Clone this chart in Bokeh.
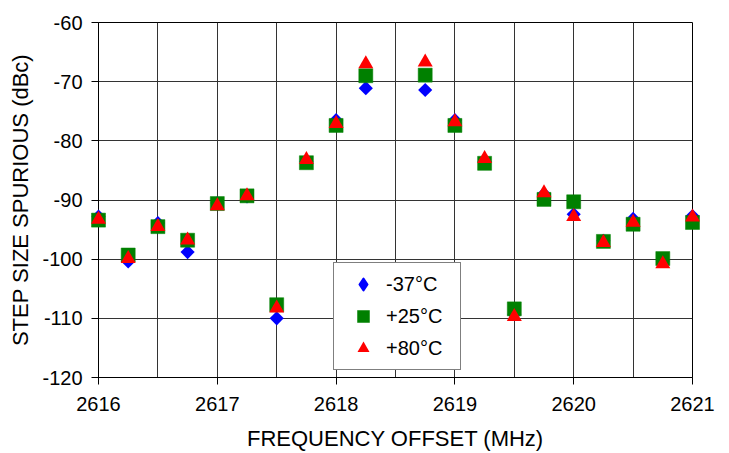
import numpy as np
from bokeh.plotting import figure
from bokeh.models import (FixedTicker, SingleIntervalTicker, Legend, LegendItem,
                          ColumnDataSource, Range1d)
from bokeh.embed import file_html
from bokeh.resources import INLINE

# ---- data ----
freq = [2616.0, 2616.25, 2616.5, 2616.75, 2617.0, 2617.25, 2617.5, 2617.75, 2618.0, 2618.25,
        2618.75, 2619.0, 2619.25, 2619.5, 2619.75, 2620.0, 2620.25, 2620.5, 2620.75, 2621.0]
spur_m37 = [-92.8, -100.4, -93.9, -98.8, -90.5, -89.4, -110.0, -83.5, -76.5, -71.1,
            -71.4, -76.5, -83.5, -109.3, -89.0, -92.4, -96.9, -93.2, -100.3, -92.7]
spur_p25 = [-93.4, -99.3, -94.5, -96.8, -90.6, -89.3, -107.7, -83.7, -77.4, -69.0,
            -68.9, -77.4, -83.8, -108.4, -89.9, -90.3, -97.0, -94.1, -99.9, -93.8]
spur_p80 = [-93.3, -99.9, -94.5, -96.8, -91.0, -89.3, -108.3, -83.2, -77.1, -67.0,
            -66.7, -76.8, -83.0, -109.7, -88.8, -92.8, -97.2, -93.8, -100.8, -92.9]
series_labels = ["-37°C", "+25°C", "+80°C"]
x_ticks = [2616, 2617, 2618, 2619, 2620, 2621]
y_ticks = [-120, -110, -100, -90, -80, -70, -60]

FONT = "Liberation Sans"

p = figure(width=729, height=453,
           x_range=Range1d(2616, 2621), y_range=Range1d(-120, -60),
           output_backend="svg", toolbar_location=None,
           min_border_left=98, min_border_right=37, min_border_top=22, min_border_bottom=75,
           background_fill_color="white", border_fill_color="white")

p.outline_line_color = "black"
p.outline_line_width = 1

# grid
p.xgrid.ticker = SingleIntervalTicker(interval=0.5)
p.ygrid.ticker = FixedTicker(ticks=y_ticks)
for g in (p.xgrid, p.ygrid):
    g.grid_line_color = "#333333"
    g.grid_line_width = 1

# axes
p.xaxis.ticker = FixedTicker(ticks=x_ticks, minor_ticks=[])
p.yaxis.ticker = FixedTicker(ticks=y_ticks, minor_ticks=[])
p.xaxis.major_label_overrides = {t: str(t) for t in x_ticks}
p.yaxis.major_label_overrides = {t: str(t) for t in y_ticks}
p.xaxis.axis_label = "FREQUENCY OFFSET (MHz)"
p.yaxis.axis_label = "STEP SIZE SPURIOUS (dBc)"
for ax in (p.xaxis, p.yaxis):
    ax.axis_line_color = "black"
    ax.major_tick_line_color = "black"
    ax.major_tick_out = 7
    ax.major_tick_in = 0
    ax.minor_tick_out = 0
    ax.minor_tick_in = 0
    ax.major_label_text_font = FONT
    ax.major_label_text_font_size = "20px"
    ax.major_label_text_color = "black"
    ax.axis_label_text_font = FONT
    ax.axis_label_text_font_size = "22px"
    ax.axis_label_text_font_style = "normal"
    ax.axis_label_text_color = "black"
p.xaxis.major_label_standoff = 12
p.yaxis.major_label_standoff = 9
p.xaxis.axis_label_standoff = 12
p.yaxis.axis_label_standoff = 6

src = ColumnDataSource(dict(freq=freq, m37=spur_m37, p25=spur_p25, p80=spur_p80))

r1 = p.scatter("freq", "m37", source=src, marker="square", angle=np.pi / 4, size=10,
               fill_color="#0000ff", line_color=None, level="overlay")
r2 = p.scatter("freq", "p25", source=src, marker="square", size=14,
               fill_color="#008000", line_color="#008000", line_alpha=0.5, level="overlay")
r3 = p.scatter("freq", "p80", source=src, marker="triangle", size=15,
               fill_color="#ff0000", line_color=None, level="overlay")

# hidden copy of the -37°C series, used only for its legend glyph
r1_leg = p.scatter("freq", "m37", source=src, marker="diamond", size=10,
                   fill_color="#0000ff", line_color="#0000ff", line_width=2,
                   line_join="round", visible=False)

legend = Legend(items=[LegendItem(label=series_labels[0], renderers=[r1_leg]),
                       LegendItem(label=series_labels[1], renderers=[r2]),
                       LegendItem(label=series_labels[2], renderers=[r3])],
                location=(235, 7))
legend.label_text_font = FONT
legend.label_text_font_size = "20px"
legend.label_text_color = "black"
legend.border_line_color = "black"
legend.border_line_width = 1
legend.background_fill_color = "white"
legend.background_fill_alpha = 1
legend.padding = 6
legend.spacing = 2
legend.margin = 0
legend.glyph_height = 30
legend.glyph_width = 46
legend.label_standoff = 0
legend.label_width = 68
legend.label_height = 30
p.add_layout(legend)

open("out.html", "w").write(file_html(p, INLINE))
